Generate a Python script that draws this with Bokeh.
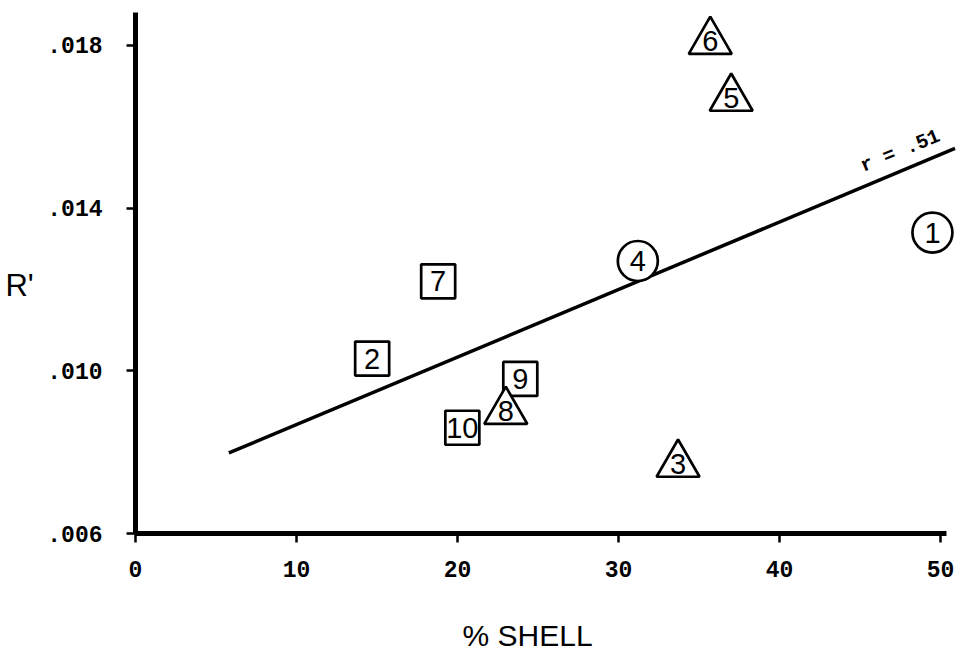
from bokeh.plotting import figure
from bokeh.models import (ColumnDataSource, Range1d, FixedTicker, Label,
                          CustomJSTickFormatter)
from bokeh.core.properties import value
from bokeh.embed import file_html
from bokeh.resources import INLINE

# Samples: percent shell vs. R'
sample_ids = ["1", "2", "3", "4", "5", "6", "7", "8", "9", "10"]
pct_shell = [49.5, 14.7, 33.7, 31.2, 37.0, 35.7, 18.8, 23.0, 23.9, 20.3]
r_prime = [0.0134, 0.0103, 0.0077, 0.0127, 0.0167, 0.0181, 0.0122, 0.0090, 0.0098, 0.0086]
shapes = ["circle", "square", "triangle", "circle", "triangle",
          "triangle", "square", "triangle", "square", "square"]

# Regression line end points and its correlation coefficient
fit_x = [5.8, 50.9]
fit_y = [0.00798, 0.01547]
r_text = "r = .51"

x_ticks = [0, 10, 20, 30, 40, 50]
y_ticks = [0.006, 0.010, 0.014, 0.018]

TYPE_FONT = "Liberation Mono"
HAND_FONT = "Liberation Sans"

W, H = 960, 656
ORIGIN_PX = (135, 533)        # where x=0, y=.006 sit on the canvas
PX_PER_X = 16.1               # pixels per percent shell
PX_PER_Y = 40670.0            # pixels per unit of R'

x_lo = -ORIGIN_PX[0] / PX_PER_X
x_hi = (W - ORIGIN_PX[0]) / PX_PER_X
y_lo = 0.006 - (H - ORIGIN_PX[1]) / PX_PER_Y
y_hi = 0.006 + ORIGIN_PX[1] / PX_PER_Y

p = figure(width=W, height=H,
           x_range=Range1d(x_lo, x_hi), y_range=Range1d(y_lo, y_hi),
           output_backend="svg", toolbar_location=None,
           min_border=0)
p.outline_line_color = None
p.xgrid.visible = False
p.ygrid.visible = False
p.background_fill_color = "white"
p.border_fill_color = "white"

for ax in (p.xaxis[0], p.yaxis[0]):
    ax.axis_line_width = 5
    ax.axis_line_color = "black"
    ax.major_tick_in = 0
    ax.major_tick_out = 9
    ax.major_tick_line_width = 2.5
    ax.major_tick_line_color = "black"
    ax.minor_tick_line_color = None
    ax.major_label_text_font = TYPE_FONT
    ax.major_label_text_font_style = "bold"
    ax.major_label_text_font_size = "23px"
    ax.major_label_text_color = "black"

# Axes pinned to the origin so the whole canvas is the data frame
xa = p.xaxis[0]
xa.fixed_location = 0.006
xa.ticker = FixedTicker(ticks=x_ticks)
xa.bounds = (0, 50.4)
xa.major_label_standoff = 18

ya = p.yaxis[0]
ya.fixed_location = 0
ya.ticker = FixedTicker(ticks=y_ticks)
ya.bounds = (0.006, 0.0188)
ya.major_label_standoff = 24
ya.formatter = CustomJSTickFormatter(
    code="return tick.toFixed(3).replace(/^0/, '');")

# Regression line
p.line(fit_x, fit_y, line_width=3.5, line_color="black")

# Markers, one renderer per shape so triangles sit on top
sizes = {"circle": 40, "square": 34, "triangle": 43}
for shape in ["circle", "square", "triangle"]:
    idx = [i for i, s in enumerate(shapes) if s == shape]
    src = ColumnDataSource(dict(x=[pct_shell[i] for i in idx],
                                y=[r_prime[i] for i in idx]))
    p.scatter("x", "y", source=src, marker=shape, size=sizes[shape],
              fill_color="white", line_color="black", line_width=2.7)

# Sample numbers inside the markers
p.text(x=pct_shell, y=r_prime, text=sample_ids,
       text_font=value(HAND_FONT), text_font_size="29px",
       text_align="center", text_baseline="middle", text_color="black")

# Correlation note along the line
p.add_layout(Label(x=47.5, y=0.01540, text=r_text, angle=0.385,
                   text_font=TYPE_FONT, text_font_style="bold",
                   text_font_size="20px", text_align="center",
                   text_baseline="middle", text_color="black"))

# Axis titles
p.add_layout(Label(x=24.35, y=0.00349, text="% SHELL",
                   text_font=HAND_FONT, text_font_size="30px",
                   text_align="center", text_baseline="middle",
                   text_color="black"))
p.add_layout(Label(x=-7.2, y=0.0121, text="R'",
                   text_font=HAND_FONT, text_font_size="31px",
                   text_align="center", text_baseline="middle",
                   text_color="black"))

open("out.html", "w").write(file_html(p, INLINE))
